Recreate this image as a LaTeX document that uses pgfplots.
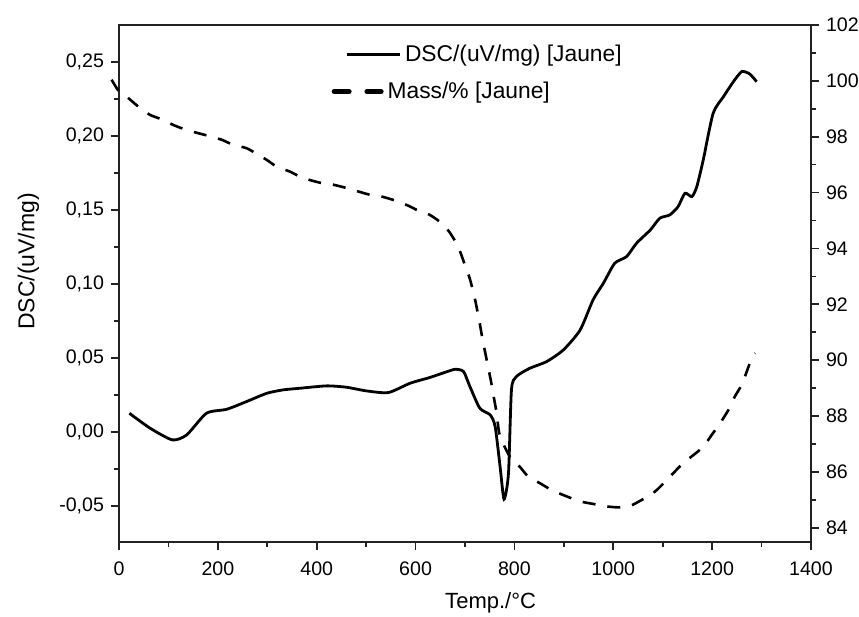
\documentclass[border=0pt]{standalone}
\usepackage{fontspec}
\setmainfont{Liberation Sans}
\usepackage{pgfplots}
\pgfplotsset{compat=1.18}
\definecolor{axcol}{HTML}{222222}
\begin{document}
\begin{tikzpicture}
\useasboundingbox (-59.5pt,-37.65pt) rectangle (370pt,270.85pt);
\pgfplotsset{
  common/.style={
    scale only axis, width=346pt, height=258.35pt,
    xmin=0, xmax=1400,
    tick align=outside,
    major tick length=4pt, minor tick length=2.5pt,
    axis line style={axcol, line width=0.8pt},
    every tick/.style={axcol, line width=0.8pt},
    every minor tick/.style={axcol, line width=0.8pt},
    tick label style={font=\fontsize{9.8}{11}\selectfont},
    /pgf/number format/assume math mode=true,
    legend style={draw=none, fill=none, inner sep=0pt, outer sep=0pt, anchor=west,
      font=\fontsize{11.4}{13}\selectfont,
      /tikz/every even column/.append style={column sep=0pt}},
  }
}
\begin{axis}[common,
  ymin=-0.074, ymax=0.2752,
  xtick={0,200,...,1400}, minor xtick={100,300,...,1300},
  xticklabel style={/pgf/number format/.cd, 1000 sep={}, /tikz/.cd, yshift=-2.5pt},
  xtick pos=bottom,
  ytick={-0.05,0,0.05,0.1,0.15,0.2,0.25},
  minor ytick={-0.025,0.025,0.075,0.125,0.175,0.225},
  ytick pos=left,
  yticklabel style={/pgf/number format/.cd, use comma, fixed, fixed zerofill, precision=2},
  xlabel={Temp./°C},
  ylabel={DSC/(uV/mg)},
  xlabel style={font=\fontsize{11}{13}\selectfont, at={(axis description cs:0.537,-0.1186)}, anchor=center},
  ylabel style={font=\fontsize{11.5}{13}\selectfont, at={(axis description cs:-0.1308,0.5423)}, anchor=center},
  legend style={at={(axis description cs:0.3266,0.942)}},
  legend image code/.code={\draw[#1, line width=1.5pt] (0pt,0pt) -- (26.5pt,0pt);},
]
\addplot[black, line width=1.4pt, smooth, tension=0.4] coordinates {
(21,0.0128) (63,0.0027) (108,-0.0052) (137,-0.0018) (177,0.0128) (218,0.0155)
(258,0.0207) (299,0.0263) (332,0.0286) (366,0.0297) (420,0.0313) (460,0.0304)
(501,0.0279) (545,0.0268) (589,0.0331) (629,0.0370) (660,0.0405) (680,0.0425)
(697,0.041) (710,0.0308) (730,0.0162) (751,0.0117) (761,0.0038) (771,-0.0232)
(779,-0.0453) (788,-0.0277) (794,0.0286) (804,0.0376) (831,0.0432) (865,0.0477)
(899,0.0556) (933,0.0691) (959,0.0894) (980,0.1007) (1003,0.1142) (1027,0.1187)
(1047,0.1277) (1075,0.1367) (1094,0.1446) (1114,0.1468) (1131,0.1524) (1145,0.1615)
(1159,0.1592) (1169,0.166) (1182,0.184) (1202,0.2155) (1223,0.2268) (1243,0.2369)
(1260,0.2437) (1276,0.2421) (1290,0.2369)
};
\addlegendentry{DSC/(uV/mg) [Jaune]}
\end{axis}
\begin{axis}[common,
  ymin=83.5, ymax=102,
  xtick=\empty,
  ytick={84,86,...,102}, minor ytick={85,87,...,101},
  ytick pos=right, yticklabel pos=right,
  clip=false,
  legend style={at={(axis description cs:0.3073,0.871)}},
  legend image code/.code={\draw[black, line width=2.6pt, line cap=round, dash pattern=on 7.4pt off 9pt] (1.3pt,0pt) -- (24.7pt,0pt);},
]
\addplot[black, line width=1.3pt, smooth, tension=0.4, dash pattern=on 6.5pt off 6pt] coordinates {
(-15,100.04) (0,99.62) (15,99.44) (39,99.08) (63,98.78) (90,98.6) (110,98.42)
(137,98.24) (181,98.03) (208,97.89) (231,97.71) (258,97.59) (282,97.35) (299,97.17)
(319,96.93) (346,96.75) (366,96.57) (386,96.45) (410,96.34) (434,96.28) (461,96.16)
(484,96.04) (508,95.92) (531,95.86) (565,95.68) (589,95.50) (609,95.32) (629,95.20)
(653,94.90) (670,94.55) (686,94.07) (698,93.5) (710,92.9) (720,92.2) (728,91.5)
(735,90.8) (744,90.0) (752,89.3) (758,88.7) (764,88.1) (769,87.4) (777,87.02)
(791,86.54) (811,86.18) (828,85.83) (852,85.59) (875,85.35) (899,85.17) (916,85.05)
(936,84.93) (960,84.85) (983,84.77) (1010,84.73) (1034,84.78) (1057,84.99) (1075,85.17)
(1088,85.35) (1105,85.65) (1124,86.0) (1141,86.31) (1162,86.6) (1182,86.9) (1199,87.32)
(1216,87.74) (1233,88.22) (1246,88.7) (1260,89.12) (1270,89.59) (1280,90.07) (1287,90.25)
};
\addlegendentry{Mass/\% [Jaune]}
\end{axis}
\end{tikzpicture}
\end{document}
